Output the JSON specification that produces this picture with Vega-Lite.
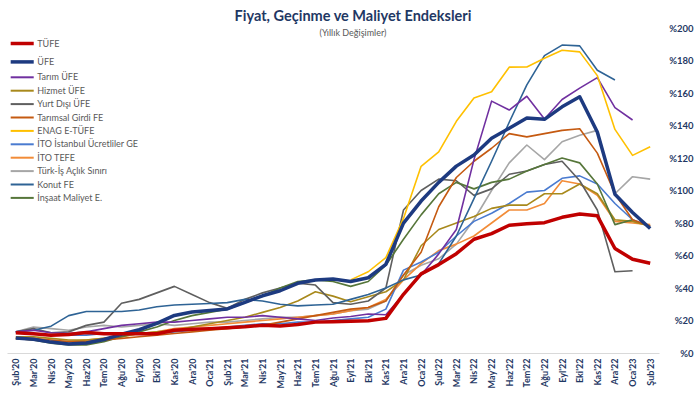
{
  "$schema": "https://vega.github.io/schema/vega-lite/v6.json",
  "width": 652,
  "height": 325,
  "autosize": {"type": "none"},
  "padding": {"left": 7, "top": 28, "right": 39, "bottom": 42},
  "background": "white",
  "config": {"font": "Lato", "view": {"stroke": null}},
  "title": {
    "text": "Fiyat, Geçinme ve Maliyet Endeksleri",
    "subtitle": "(Yıllık Değişimler)",
    "anchor": "middle",
    "frame": "group",
    "fontSize": 14.5,
    "fontWeight": "bold",
    "color": "#1f3864",
    "subtitleFontSize": 9,
    "subtitleColor": "#595959",
    "subtitlePadding": 5,
    "offset": -16,
    "dx": 20
  },
  "data": {
    "values": [
      {"m": "Şub'20", "TUFE": 12.4, "UFE": 9.3, "TARIM": 13, "HIZMET": 10, "YD": 13, "TGFE": 9, "ENAG": null, "ITOU": 13, "ITOT": 9, "TURKIS": 13, "KONUT": 13, "INSAAT": 9},
      {"m": "Mar'20", "TUFE": 11.9, "UFE": 8.5, "TARIM": 14, "HIZMET": 10, "YD": 15, "TGFE": 9, "ENAG": null, "ITOU": 12, "ITOT": 8, "TURKIS": 16, "KONUT": 14, "INSAAT": 8},
      {"m": "Nis'20", "TUFE": 10.9, "UFE": 6.7, "TARIM": 12.5, "HIZMET": 9, "YD": 12.5, "TGFE": 8, "ENAG": null, "ITOU": 11, "ITOT": 7, "TURKIS": 15, "KONUT": 16.5, "INSAAT": 6},
      {"m": "May'20", "TUFE": 11.4, "UFE": 5.5, "TARIM": 12, "HIZMET": 8, "YD": 13, "TGFE": 7, "ENAG": null, "ITOU": 11, "ITOT": 7, "TURKIS": 14, "KONUT": 23, "INSAAT": 5},
      {"m": "Haz'20", "TUFE": 12.6, "UFE": 6.2, "TARIM": 13, "HIZMET": 8, "YD": 17, "TGFE": 7, "ENAG": null, "ITOU": 11, "ITOT": 8, "TURKIS": 16, "KONUT": 25.5, "INSAAT": 5},
      {"m": "Tem'20", "TUFE": 11.8, "UFE": 8.3, "TARIM": 15, "HIZMET": 9, "YD": 19, "TGFE": 8, "ENAG": null, "ITOU": 12, "ITOT": 9, "TURKIS": 17, "KONUT": 25.5, "INSAAT": 7},
      {"m": "Ağu'20", "TUFE": 11.8, "UFE": 11.5, "TARIM": 17, "HIZMET": 10, "YD": 30.6, "TGFE": 9, "ENAG": null, "ITOU": 12, "ITOT": 10, "TURKIS": 16, "KONUT": 25.5, "INSAAT": 10},
      {"m": "Eyl'20", "TUFE": 11.8, "UFE": 14.3, "TARIM": 18, "HIZMET": 12, "YD": 33, "TGFE": 10, "ENAG": null, "ITOU": 12, "ITOT": 12, "TURKIS": 17, "KONUT": 26.5, "INSAAT": 13},
      {"m": "Eki'20", "TUFE": 11.9, "UFE": 18.2, "TARIM": 19, "HIZMET": 13, "YD": 37, "TGFE": 11, "ENAG": null, "ITOU": 12, "ITOT": 13, "TURKIS": 18, "KONUT": 28.5, "INSAAT": 16},
      {"m": "Kas'20", "TUFE": 14.0, "UFE": 23.1, "TARIM": 19, "HIZMET": 14, "YD": 41, "TGFE": 12, "ENAG": null, "ITOU": 13, "ITOT": 15, "TURKIS": 17, "KONUT": 29.5, "INSAAT": 20},
      {"m": "Ara'20", "TUFE": 14.6, "UFE": 25.2, "TARIM": 20, "HIZMET": 16, "YD": 36, "TGFE": 13, "ENAG": null, "ITOU": 14, "ITOT": 16, "TURKIS": 18, "KONUT": 30, "INSAAT": 23},
      {"m": "Oca'21", "TUFE": 15.0, "UFE": 26.2, "TARIM": 21, "HIZMET": 18, "YD": 31, "TGFE": 14, "ENAG": null, "ITOU": 15, "ITOT": 17, "TURKIS": 19, "KONUT": 30.5, "INSAAT": 25},
      {"m": "Şub'21", "TUFE": 15.6, "UFE": 27.1, "TARIM": 22, "HIZMET": 20, "YD": 27.5, "TGFE": 15, "ENAG": null, "ITOU": 16, "ITOT": 18, "TURKIS": 19, "KONUT": 31, "INSAAT": 27},
      {"m": "Mar'21", "TUFE": 16.2, "UFE": 31.2, "TARIM": 22, "HIZMET": 22, "YD": 33, "TGFE": 16, "ENAG": null, "ITOU": 17, "ITOT": 19, "TURKIS": 20, "KONUT": 33, "INSAAT": 31},
      {"m": "Nis'21", "TUFE": 17.1, "UFE": 35.2, "TARIM": 23, "HIZMET": 25, "YD": 37, "TGFE": 17, "ENAG": null, "ITOU": 18, "ITOT": 20, "TURKIS": 21, "KONUT": 32, "INSAAT": 35},
      {"m": "May'21", "TUFE": 16.6, "UFE": 38.3, "TARIM": 22, "HIZMET": 28, "YD": 40, "TGFE": 19, "ENAG": null, "ITOU": 18, "ITOT": 21, "TURKIS": 22, "KONUT": 30, "INSAAT": 40},
      {"m": "Haz'21", "TUFE": 17.5, "UFE": 42.9, "TARIM": 21, "HIZMET": 32, "YD": 43, "TGFE": 21, "ENAG": null, "ITOU": 19, "ITOT": 22, "TURKIS": 22, "KONUT": 29, "INSAAT": 44},
      {"m": "Tem'21", "TUFE": 19.0, "UFE": 44.9, "TARIM": 20, "HIZMET": 37.7, "YD": 41.8, "TGFE": 23, "ENAG": null, "ITOU": 19, "ITOT": 23, "TURKIS": 23, "KONUT": 29.5, "INSAAT": 45},
      {"m": "Ağu'21", "TUFE": 19.3, "UFE": 45.5, "TARIM": 21.5, "HIZMET": 35, "YD": 31, "TGFE": 25, "ENAG": null, "ITOU": 20, "ITOT": 24, "TURKIS": 24, "KONUT": 30, "INSAAT": 44},
      {"m": "Eyl'21", "TUFE": 19.6, "UFE": 44.0, "TARIM": 22.5, "HIZMET": 31.6, "YD": 30, "TGFE": 27, "ENAG": 45, "ITOU": 21, "ITOT": 26, "TURKIS": 26, "KONUT": 33, "INSAAT": 41},
      {"m": "Eki'21", "TUFE": 19.9, "UFE": 46.3, "TARIM": 24, "HIZMET": 34.6, "YD": 32, "TGFE": 28, "ENAG": 50, "ITOU": 22, "ITOT": 28, "TURKIS": 27, "KONUT": 36, "INSAAT": 44},
      {"m": "Kas'21", "TUFE": 21.3, "UFE": 54.6, "TARIM": 23.5, "HIZMET": 37.7, "YD": 40, "TGFE": 32, "ENAG": 58.7, "ITOU": 27, "ITOT": 33, "TURKIS": 32, "KONUT": 40, "INSAAT": 54},
      {"m": "Ara'21", "TUFE": 36.1, "UFE": 79.9, "TARIM": 36, "HIZMET": 45, "YD": 88, "TGFE": 48, "ENAG": 82.8, "ITOU": 51, "ITOT": 45, "TURKIS": 48, "KONUT": 45, "INSAAT": 70},
      {"m": "Oca'22", "TUFE": 48.7, "UFE": 93.5, "TARIM": 48, "HIZMET": 66, "YD": 100, "TGFE": 62, "ENAG": 114.9, "ITOU": 56, "ITOT": 55, "TURKIS": 54, "KONUT": 48, "INSAAT": 85},
      {"m": "Şub'22", "TUFE": 54.4, "UFE": 105.0, "TARIM": 61, "HIZMET": 76, "YD": 107, "TGFE": 90, "ENAG": 123.8, "ITOU": 62, "ITOT": 63, "TURKIS": 58, "KONUT": 55, "INSAAT": 98},
      {"m": "Mar'22", "TUFE": 61.1, "UFE": 115.0, "TARIM": 76, "HIZMET": 80, "YD": 106, "TGFE": 108, "ENAG": 142.6, "ITOU": 72, "ITOT": 67, "TURKIS": 67, "KONUT": 72, "INSAAT": 105},
      {"m": "Nis'22", "TUFE": 70.0, "UFE": 121.8, "TARIM": 119, "HIZMET": 84, "YD": 97, "TGFE": 118, "ENAG": 156.9, "ITOU": 81, "ITOT": 72, "TURKIS": 82, "KONUT": 95, "INSAAT": 101},
      {"m": "May'22", "TUFE": 73.5, "UFE": 132.2, "TARIM": 155, "HIZMET": 89, "YD": 101, "TGFE": 126, "ENAG": 160.8, "ITOU": 86, "ITOT": 80, "TURKIS": 100, "KONUT": 118, "INSAAT": 105},
      {"m": "Haz'22", "TUFE": 78.6, "UFE": 138.3, "TARIM": 149.5, "HIZMET": 91, "YD": 110, "TGFE": 135, "ENAG": 175.9, "ITOU": 92, "ITOT": 88, "TURKIS": 117, "KONUT": 142, "INSAAT": 107},
      {"m": "Tem'22", "TUFE": 79.6, "UFE": 144.6, "TARIM": 158, "HIZMET": 91, "YD": 112, "TGFE": 133, "ENAG": 176.0, "ITOU": 99, "ITOT": 88, "TURKIS": 128, "KONUT": 165, "INSAAT": 112},
      {"m": "Ağu'22", "TUFE": 80.2, "UFE": 143.8, "TARIM": 144, "HIZMET": 98, "YD": 116, "TGFE": 135, "ENAG": 181.4, "ITOU": 100, "ITOT": 92, "TURKIS": 119, "KONUT": 183, "INSAAT": 116},
      {"m": "Eyl'22", "TUFE": 83.5, "UFE": 151.5, "TARIM": 156, "HIZMET": 98, "YD": 118, "TGFE": 137, "ENAG": 186.3, "ITOU": 107.5, "ITOT": 106, "TURKIS": 130, "KONUT": 189.5, "INSAAT": 120},
      {"m": "Eki'22", "TUFE": 85.5, "UFE": 157.7, "TARIM": 163, "HIZMET": 104, "YD": 106, "TGFE": 138, "ENAG": 185.3, "ITOU": 109, "ITOT": 104, "TURKIS": 134, "KONUT": 189, "INSAAT": 117},
      {"m": "Kas'22", "TUFE": 84.4, "UFE": 136.0, "TARIM": 169.5, "HIZMET": 98, "YD": 88, "TGFE": 123, "ENAG": 170.7, "ITOU": 104, "ITOT": 97, "TURKIS": 137, "KONUT": 174, "INSAAT": 104},
      {"m": "Ara'22", "TUFE": 64.3, "UFE": 97.7, "TARIM": 151, "HIZMET": 82, "YD": 50, "TGFE": 98, "ENAG": 137.6, "ITOU": 92, "ITOT": 81, "TURKIS": 98, "KONUT": 168, "INSAAT": 79},
      {"m": "Oca'23", "TUFE": 57.7, "UFE": 86.5, "TARIM": 143.4, "HIZMET": 81, "YD": 50.6, "TGFE": 82, "ENAG": 121.6, "ITOU": 82, "ITOT": 80, "TURKIS": 108.5, "KONUT": null, "INSAAT": 82},
      {"m": "Şub'23", "TUFE": 55.2, "UFE": 76.6, "TARIM": null, "HIZMET": 78, "YD": null, "TGFE": 78, "ENAG": 126.9, "ITOU": 78, "ITOT": 79, "TURKIS": 107, "KONUT": null, "INSAAT": null}
    ]
  },
  "transform": [
    {"fold": ["TURKIS", "ITOT", "ITOU", "HIZMET", "YD", "INSAAT", "TGFE", "KONUT", "TARIM", "ENAG", "UFE", "TUFE"], "as": ["s", "v"]}
  ],
  "mark": {"type": "line", "strokeJoin": "round"},
  "encoding": {
    "x": {
      "field": "m",
      "type": "ordinal",
      "sort": ["Şub'20", "Mar'20", "Nis'20", "May'20", "Haz'20", "Tem'20", "Ağu'20", "Eyl'20", "Eki'20", "Kas'20", "Ara'20", "Oca'21", "Şub'21", "Mar'21", "Nis'21", "May'21", "Haz'21", "Tem'21", "Ağu'21", "Eyl'21", "Eki'21", "Kas'21", "Ara'21", "Oca'22", "Şub'22", "Mar'22", "Nis'22", "May'22", "Haz'22", "Tem'22", "Ağu'22", "Eyl'22", "Eki'22", "Kas'22", "Ara'22", "Oca'23", "Şub'23"],
      "scale": {"type": "point", "padding": 0.5},
      "axis": {
        "title": null,
        "labelAngle": -90,
        "labelAlign": "right",
        "labelBaseline": "middle",
        "labelPadding": 5,
        "labelColor": "#1f3864",
        "labelFontWeight": "bold",
        "labelFontSize": 9,
        "ticks": false,
        "domainColor": "#d9d9d9",
        "domainWidth": 1,
        "grid": false
      }
    },
    "y": {
      "field": "v",
      "type": "quantitative",
      "scale": {"domain": [0, 200], "nice": false},
      "axis": {
        "title": null,
        "orient": "right",
        "values": [0, 20, 40, 60, 80, 100, 120, 140, 160, 180, 200],
        "labelExpr": "'%' + datum.value",
        "grid": false,
        "domain": false,
        "ticks": false,
        "labelAlign": "right",
        "labelPadding": 34,
        "labelColor": "#1f3864",
        "labelFontWeight": "bold",
        "labelFontSize": 9.5
      }
    },
    "color": {
      "field": "s",
      "type": "nominal",
      "scale": {
        "domain": ["TUFE", "UFE", "TARIM", "HIZMET", "YD", "TGFE", "ENAG", "ITOU", "ITOT", "TURKIS", "KONUT", "INSAAT"],
        "range": ["#c00000", "#1d3a80", "#7030a0", "#a8891c", "#5f5f5f", "#c55a11", "#ffc000", "#4a7bd0", "#f28c38", "#a6a6a6", "#2e6395", "#56763a"]
      },
      "legend": {
        "orient": "none",
        "legendX": 10.7,
        "legendY": 11,
        "title": null,
        "symbolType": "M-3,0H3",
        "symbolSize": 59,
        "symbolStrokeWidth": 2,
        "labelFontSize": 9,
        "labelColor": "#595959",
        "rowPadding": 3.4,
        "labelOffset": 10.6,
        "padding": 0,
        "labelExpr": "({'TUFE':'TÜFE','UFE':'ÜFE','TARIM':'Tarım ÜFE','HIZMET':'Hizmet ÜFE','YD':'Yurt Dışı ÜFE','TGFE':'Tarımsal Girdi FE','ENAG':'ENAG E-TÜFE','ITOU':'İTO İstanbul Ücretliler GE','ITOT':'İTO TEFE','TURKIS':'Türk-İş Açlık Sınırı','KONUT':'Konut FE','INSAAT':'İnşaat Maliyet E.'})[datum.label]",
        "encode": {
          "symbols": {
            "update": {
              "strokeWidth": {"signal": "datum.value === 'TUFE' || datum.value === 'UFE' ? 3.5 : 2"}
            }
          }
        }
      }
    },
    "strokeWidth": {
      "condition": {"test": "datum.s === 'TUFE' || datum.s === 'UFE'", "value": 3.5},
      "value": 1.6
    }
  }
}
